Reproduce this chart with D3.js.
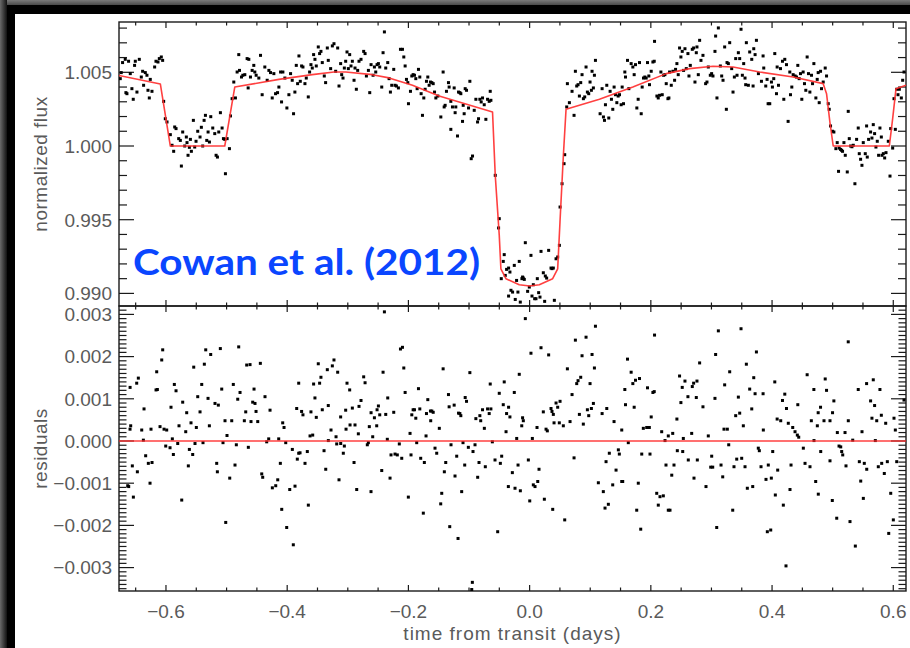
<!DOCTYPE html>
<html>
<head>
<meta charset="utf-8">
<script src="https://cdn.jsdelivr.net/npm/d3@7"></script>
<style>
  html, body { margin: 0; padding: 0; background: #000; }
  svg { display: block; }
</style>
</head>
<body>
<svg id="chart" width="910" height="648"></svg>
<script>
// ---- Light-curve measurements: [time from transit (days), normalized flux] ----
const fluxPoints = [
  [-0.6754,1.00457],[-0.6738,1.00498],[-0.6716,1.00566],[-0.6672,1.00588],[-0.6661,1.00362],[-0.6644,1.00355],[-0.6617,1.00575],[-0.6589,1.00491],[-0.6562,1.00389],[-0.6540,1.00317],[-0.6518,1.00547],[-0.6506,1.00575],[-0.6479,1.00366],[-0.6440,1.00588],[-0.6407,1.00468],[-0.6385,1.00507],[-0.6369,1.00412],[-0.6341,1.00498],[-0.6314,1.00480],[-0.6297,1.00378],[-0.6275,1.00326],[-0.6259,1.00452],[-0.6231,1.00371],[-0.6187,1.00536],[-0.6165,1.00575],[-0.6132,1.00570],[-0.6110,1.00593],[-0.6077,1.00604],[-0.6055,1.00581],
  [-0.6038,1.00303],[-0.6011,1.00185],[-0.5983,1.00163],[-0.5928,1.00077],[-0.5900,1.00005],[-0.5873,0.99964],[-0.5856,1.00129],[-0.5834,1.00118],[-0.5790,1.00050],[-0.5763,1.00038],[-0.5746,0.99864],[-0.5724,1.00095],[-0.5691,1.00000],[-0.5664,1.00061],[-0.5653,1.00023],[-0.5636,0.99937],[-0.5614,0.99991],[-0.5597,1.00045],[-0.5581,0.99964],[-0.5548,1.00174],[-0.5526,0.99993],[-0.5504,1.00032],[-0.5476,1.00100],[-0.5438,1.00061],[-0.5416,1.00127],[-0.5394,1.00000],[-0.5371,1.00174],[-0.5349,1.00208],[-0.5327,1.00038],[-0.5305,1.00095],[-0.5283,1.00027],[-0.5261,1.00199],[-0.5228,1.00122],[-0.5195,1.00084],[-0.5173,0.99937],[-0.5151,0.99925],[-0.5129,1.00095],[-0.5102,1.00226],[-0.5074,1.00122],[-0.5052,1.00050],[-0.5030,1.00045],[-0.5019,0.99812],[-0.4991,1.00050],[-0.4953,0.99982],
  [-0.4936,1.00204],[-0.4909,1.00321],[-0.4881,1.00434],[-0.4854,1.00326],[-0.4826,1.00502],[-0.4799,1.00620],[-0.4787,1.00513],[-0.4754,1.00468],[-0.4732,1.00480],[-0.4699,1.00484],[-0.4661,1.00593],[-0.4644,1.00394],[-0.4633,1.00588],[-0.4606,1.00468],[-0.4578,1.00513],[-0.4551,1.00547],[-0.4534,1.00502],[-0.4512,1.00480],[-0.4468,1.00461],[-0.4440,1.00615],[-0.4413,1.00348],[-0.4369,1.00536],[-0.4330,1.00446],[-0.4302,1.00513],[-0.4275,1.00498],[-0.4247,1.00326],[-0.4220,1.00491],[-0.4192,1.00355],[-0.4159,1.00362],
  [-0.4137,1.00400],[-0.4109,1.00502],[-0.4093,1.00299],[-0.4071,1.00502],[-0.4038,1.00461],[-0.4005,1.00258],[-0.3972,1.00348],[-0.3944,1.00491],[-0.3917,1.00446],[-0.3895,1.00219],[-0.3873,1.00366],[-0.3850,1.00547],[-0.3828,1.00423],[-0.3806,1.00611],[-0.3784,1.00439],[-0.3762,1.00543],[-0.3740,1.00536],[-0.3707,1.00423],[-0.3685,1.00461],[-0.3652,1.00333],[-0.3630,1.00502],[-0.3608,1.00552],[-0.3586,1.00529],[-0.3564,1.00620],[-0.3542,1.00588],[-0.3520,1.00543],[-0.3487,1.00672],[-0.3465,1.00627],[-0.3443,1.00642],[-0.3421,1.00566],[-0.3388,1.00475],[-0.3366,1.00430],[-0.3338,1.00665],[-0.3322,1.00581],[-0.3283,1.00525],[-0.3255,1.00679],[-0.3228,1.00694],[-0.3200,1.00507],[-0.3167,1.00665],[-0.3145,1.00407],[-0.3118,1.00559],[-0.3101,1.00484],[-0.3079,1.00461],[-0.3057,1.00529],[-0.3035,1.00575],[-0.3013,1.00638],[-0.2991,1.00525],[-0.2969,1.00620],[-0.2947,1.00543],[-0.2925,1.00575],[-0.2897,1.00446],[-0.2881,1.00529],[-0.2859,1.00385],[-0.2837,1.00513],[-0.2815,1.00575],[-0.2782,1.00588],[-0.2738,1.00642],[-0.2715,1.00627],[-0.2693,1.00475],[-0.2660,1.00513],[-0.2638,1.00362],[-0.2616,1.00552],[-0.2583,1.00480],[-0.2561,1.00536],[-0.2539,1.00502],[-0.2517,1.00552],[-0.2495,1.00559],[-0.2473,1.00536],[-0.2440,1.00400],[-0.2418,1.00633],[-0.2396,1.00774],[-0.2374,1.00529],[-0.2341,1.00566],[-0.2319,1.00457],[-0.2297,1.00366],[-0.2275,1.00412],[-0.2242,1.00520],[-0.2220,1.00412],[-0.2198,1.00407],[-0.2165,1.00394],[-0.2131,1.00656],[-0.2098,1.00656],[-0.2076,1.00604],[-0.2054,1.00543],[-0.2032,1.00452],[-0.2010,1.00430],[-0.1999,1.00287],[-0.1966,1.00371],[-0.1944,1.00475],[-0.1922,1.00484],[-0.1900,1.00480],[-0.1878,1.00457],[-0.1856,1.00389],[-0.1834,1.00520],[-0.1812,1.00468],[-0.1790,1.00355],[-0.1768,1.00208],[-0.1746,1.00326],[-0.1724,1.00385],[-0.1702,1.00439],[-0.1680,1.00468],[-0.1658,1.00412],[-0.1636,1.00434],[-0.1614,1.00430],[-0.1591,1.00423],[-0.1569,1.00366],[-0.1547,1.00326],[-0.1514,1.00339],
  [-0.1465,1.00197],[-0.1427,1.00502],[-0.1410,1.00265],[-0.1394,1.00276],[-0.1372,1.00371],[-0.1339,1.00430],[-0.1328,1.00400],[-0.1300,1.00303],[-0.1300,1.00113],[-0.1273,1.00265],[-0.1245,1.00394],[-0.1229,1.00226],[-0.1218,1.00265],[-0.1190,1.00068],[-0.1173,1.00366],[-0.1151,1.00362],[-0.1135,1.00355],[-0.1107,1.00167],[-0.1096,1.00276],[-0.1080,1.00219],[-0.1063,1.00389],[-0.1041,1.00378],[-0.1008,1.00258],[-0.0986,1.00439],[-0.0964,0.99914],[-0.0942,0.99932],[-0.0914,1.00242],[-0.0887,1.00317],[-0.0859,1.00163],[-0.0843,1.00185],[-0.0821,1.00317],[-0.0799,1.00299],[-0.0777,1.00326],[-0.0749,1.00280],[-0.0722,1.00181],[-0.0694,1.00317],[-0.0667,1.00303],[-0.0650,1.00371],[-0.0639,1.00310],
  [-0.0567,0.99801],[-0.0512,0.99444],[-0.0501,0.99507],[-0.0468,0.99100],[-0.0435,0.99217],[-0.0419,0.99263],[-0.0402,0.99122],[-0.0380,0.99163],[-0.0347,0.99172],[-0.0347,0.98982],[-0.0325,0.99145],[-0.0308,0.99021],[-0.0281,0.99009],[-0.0253,0.99190],[-0.0237,0.98959],[-0.0215,0.99088],[-0.0193,0.99009],[-0.0171,0.99217],[-0.0154,0.98941],[-0.0127,0.99100],[-0.0116,0.99111],[-0.0105,0.99104],[-0.0088,0.99095],[-0.0071,0.99344],[-0.0033,0.99014],[-0.0005,0.99043],[0.0022,0.99258],[0.0039,0.98982],[0.0061,0.99059],[0.0083,0.98964],[0.0105,0.98964],[0.0127,0.99100],[0.0149,0.99005],[0.0171,0.98975],[0.0188,0.99285],[0.0226,0.99140],[0.0248,0.98946],[0.0259,0.99118],[0.0281,0.99104],[0.0314,0.99292],[0.0353,0.99172],[0.0369,0.99168],[0.0391,0.99172],[0.0408,0.98953],[0.0436,0.99235],[0.0463,0.99247],[0.0491,0.99326],[0.0502,0.99586],[0.0535,0.99744],[0.0568,0.99880],[0.0579,0.99941],
  [0.0612,1.00265],[0.0623,1.00423],[0.0656,1.00294],[0.0700,1.00371],[0.0733,1.00208],[0.0755,1.00507],[0.0777,1.00407],[0.0799,1.00416],[0.0821,1.00339],[0.0843,1.00430],[0.0865,1.00484],[0.0887,1.00321],[0.0909,1.00333],[0.0931,1.00536],[0.0953,1.00366],[0.0975,1.00355],[0.0997,1.00434],[0.1019,1.00378],[0.1030,1.00507],[0.1052,1.00394],[0.1069,1.00480],[0.1086,1.00581],
  [0.1163,1.00219],[0.1196,1.00389],[0.1218,1.00197],[0.1235,1.00174],[0.1251,1.00280],[0.1273,1.00412],[0.1306,1.00190],[0.1328,1.00371],[0.1350,1.00317],[0.1372,1.00249],[0.1394,1.00400],[0.1416,1.00348],[0.1439,1.00294],[0.1461,1.00339],[0.1483,1.00348],[0.1510,1.00280],[0.1527,1.00400],[0.1549,1.00287],[0.1571,1.00502],[0.1582,1.00468],[0.1615,1.00581],[0.1637,1.00389],[0.1675,1.00559],[0.1703,1.00536],[0.1725,1.00484],[0.1747,1.00552],[0.1769,1.00258],[0.1791,1.00317],[0.1813,1.00566],[0.1841,1.00219],[0.1857,1.00400],[0.1879,1.00461],[0.1901,1.00468],[0.1923,1.00461],[0.1945,1.00566],[0.1967,1.00475],[0.1978,1.00416],[0.2006,1.00507],[0.2034,1.00570],[0.2056,1.00575],[0.2061,1.00710],[0.2100,1.00339],[0.2122,1.00326],[0.2144,1.00344],[0.2166,1.00502],[0.2188,1.00348],[0.2210,1.00480],[0.2232,1.00484],[0.2254,1.00423],[0.2282,1.00321],[0.2298,1.00326],[0.2309,1.00502],[0.2337,1.00412],[0.2364,1.00507],[0.2392,1.00446],[0.2408,1.00520],[0.2430,1.00559],[0.2452,1.00484],[0.2474,1.00665],[0.2496,1.00604],[0.2518,1.00642],[0.2540,1.00513],[0.2563,1.00660],[0.2585,1.00525],[0.2612,1.00627],[0.2629,1.00475],[0.2651,1.00547],[0.2684,1.00656],[0.2706,1.00665],[0.2728,1.00434],[0.2750,1.00633],[0.2761,1.00672],[0.2783,1.00484],[0.2805,1.00717],[0.2827,1.00581],[0.2860,1.00615],[0.2904,1.00423],[0.2926,1.00434],[0.2948,1.00536],[0.2981,1.00480],[0.3003,1.00491],[0.3025,1.00475],[0.3058,1.00642],[0.3069,1.00746],[0.3091,1.00326],[0.3114,1.00801],[0.3147,1.00543],[0.3169,1.00475],[0.3191,1.00446],[0.3218,1.00672],[0.3246,1.00249],[0.3257,1.00566],[0.3279,1.00559],[0.3301,1.00701],[0.3334,1.00525],[0.3356,1.00366],[0.3378,1.00468],[0.3400,1.00593],[0.3422,1.00480],[0.3444,1.00633],[0.3466,1.00593],[0.3488,1.00792],[0.3510,1.00480],[0.3532,1.00559],[0.3554,1.00461],[0.3565,1.00416],[0.3576,1.00701],[0.3609,1.00412],[0.3631,1.00638],[0.3665,1.00588],[0.3687,1.00407],[0.3698,1.00660],[0.3720,1.00620],[0.3742,1.00717],[0.3775,1.00491],
  [0.3825,1.00439],[0.3852,1.00611],[0.3863,1.00529],[0.3896,1.00407],[0.3918,1.00452],[0.3935,1.00287],[0.3962,1.00287],[0.3990,1.00434],[0.4006,1.00400],[0.4028,1.00457],[0.4045,1.00627],[0.4073,1.00355],[0.4084,1.00536],[0.4106,1.00412],[0.4139,1.00525],[0.4172,1.00575],[0.4194,1.00317],[0.4210,1.00588],[0.4238,1.00552],[0.4265,1.00167],[0.4293,1.00502],[0.4304,1.00348],[0.4326,1.00400],[0.4348,1.00484],[0.4381,1.00475],[0.4403,1.00468],[0.4425,1.00547],[0.4447,1.00457],[0.4469,1.00491],[0.4491,1.00317],[0.4513,1.00502],[0.4535,1.00423],[0.4557,1.00378],[0.4579,1.00604],[0.4601,1.00491],[0.4624,1.00366],[0.4651,1.00480],[0.4668,1.00423],[0.4690,1.00559],[0.4723,1.00326],[0.4745,1.00452],[0.4761,1.00498],[0.4778,1.00294],[0.4800,1.00507],[0.4816,1.00389],[0.4844,1.00434],[0.4877,1.00529],[0.4899,1.00475],
  [0.4927,1.00287],[0.4943,1.00249],[0.4965,1.00136],[0.4998,1.00100],[0.5020,1.00095],[0.5053,0.99982],[0.5075,1.00023],[0.5097,0.99828],[0.5108,0.99986],[0.5130,0.99977],[0.5147,0.99971],[0.5163,0.99964],[0.5186,1.00023],[0.5208,0.99937],[0.5241,0.99824],[0.5257,1.00235],[0.5274,1.00050],[0.5296,1.00000],[0.5318,0.99995],[0.5340,1.00005],[0.5367,0.99744],[0.5395,1.00045],[0.5422,1.00122],[0.5439,0.99948],[0.5461,0.99910],[0.5483,0.99869],[0.5505,1.00023],[0.5538,0.99948],[0.5560,1.00136],[0.5571,0.99925],[0.5593,1.00045],[0.5626,1.00095],[0.5648,1.00054],[0.5670,1.00145],[0.5692,1.00084],[0.5714,0.99993],[0.5736,1.00032],[0.5758,0.99937],[0.5780,1.00122],[0.5803,1.00061],[0.5814,0.99937],[0.5836,0.99948],[0.5858,0.99919],[0.5880,0.99955],[0.5918,1.00032],[0.5946,0.99796],[0.5957,1.00118],[0.5990,0.99986],
  [0.6012,1.00321],[0.6034,1.00113],[0.6056,1.00385],[0.6078,1.00348],[0.6100,1.00385],[0.6133,1.00326],[0.6155,1.00446],[0.6177,1.00502]
];

// ---- Best-fit model: eclipse, phase variation and transit ----
const modelPoints = [
  [-0.6775,1.00478],[-0.6093,1.00421],[-0.5928,1.00000],[-0.5030,1.00000],[-0.4865,1.00400],[-0.4137,1.00452],[-0.3586,1.00484],[-0.3228,1.00502],[-0.3035,1.00502],[-0.2594,1.00484],[-0.2319,1.00462],[-0.1933,1.00412],[-0.1493,1.00339],[-0.0612,1.00231],[-0.0567,0.99800],[-0.0501,0.99394],[-0.0474,0.99167],[-0.0391,0.99100],[-0.0171,0.99059],[0.0000,0.99050],[0.0160,0.99059],[0.0380,0.99100],[0.0463,0.99167],[0.0501,0.99484],[0.0557,0.99937],[0.0601,1.00249],[0.1152,1.00317],[0.1703,1.00400],[0.2254,1.00491],[0.2640,1.00525],[0.3025,1.00541],[0.3356,1.00536],[0.3797,1.00502],[0.4348,1.00468],[0.4844,1.00423],[0.4899,1.00355],[0.4954,1.00163],[0.5009,1.00000],[0.5935,1.00000],[0.5990,1.00186],[0.6045,1.00389],[0.6210,1.00412]
];

// ---- Residuals (data minus model): [time, residual] ----
const residualPoints = [
  // early eclipse and egress, positive side
  [-0.6592,0.00127],[-0.6483,0.00137],[-0.6456,0.00149],[-0.6362,0.00076],[-0.6164,0.00121],[-0.6142,0.00122],[-0.6153,0.00164],[-0.6070,0.00192],[-0.6054,0.00216],[-0.5917,0.00080],[-0.5862,0.00134],[-0.5834,0.00119],[-0.5724,0.00092],[-0.5658,0.00067],[-0.5542,0.00175],[-0.5476,0.00105],[-0.5438,0.00069],[-0.5410,0.00134],[-0.5367,0.00182],[-0.5344,0.00216],[-0.5306,0.00101],[-0.5262,0.00205],[-0.5191,0.00089],[-0.5136,0.00085],[-0.5103,0.00219],[-0.5080,0.00123],[-0.4889,0.00134],[-0.4816,0.00099],[-0.4800,0.00223],[-0.4778,0.00115],[-0.4684,0.00069],[-0.4668,0.00180],[-0.4613,0.00181],[-0.4569,0.00092],[-0.4547,0.00123],[-0.4531,0.00089],[-0.4514,0.00070],[-0.4443,0.00184],[-0.4366,0.00105],[-0.4283,0.00073],[-0.3843,0.00077],[-0.3810,0.00137],
  // early eclipse and egress, negative side
  [-0.6631,-0.00106],[-0.6615,-0.00108],[-0.6593,0.00028],[-0.6582,0.00036],[-0.6555,-0.00059],[-0.6538,-0.00133],[-0.6472,-0.00073],[-0.6400,0.00026],[-0.6373,0.00002],[-0.6335,-0.00035],[-0.6291,-0.00053],[-0.6263,-0.00100],[-0.6247,0.00028],[-0.6230,-0.00051],[-0.6098,0.00034],[-0.6032,0.00028],[-0.6004,-0.00012],[-0.5988,0.00026],[-0.5933,-0.00016],[-0.5895,0.00005],[-0.5878,-0.00032],[-0.5806,-0.00006],[-0.5785,0.00036],[-0.5740,-0.00140],[-0.5674,0.00022],[-0.5631,-0.00059],[-0.5614,-0.00020],[-0.5587,0.00043],[-0.5559,-0.00032],[-0.5521,-0.00006],[-0.5499,0.00032],[-0.5389,-0.00004],[-0.5284,0.00036],[-0.5163,-0.00053],[-0.5152,-0.00073],[-0.5059,-0.00004],[-0.5026,0.00048],[-0.5014,-0.00193],[-0.4993,0.00013],[-0.4948,-0.00088],[-0.4915,0.00048],[-0.4861,-0.00057],[-0.4839,-0.00009],[-0.4707,0.00048],[-0.4641,-0.00015],[-0.4597,0.00046],[-0.4486,0.00046],[-0.4420,-0.00078],[-0.4404,-0.00086],[-0.4338,-0.00002],[-0.4305,0.00005],[-0.4245,-0.00111],[-0.4189,-0.00106],[-0.4156,-0.00092],[-0.4140,0.00005],[-0.4113,-0.00053],[-0.4090,-0.00162],[-0.4074,0.00043],[-0.4052,0.00032],[-0.4024,-0.00004],[-0.4008,-0.00205],[-0.3958,-0.00115],[-0.3915,-0.00020],[-0.3899,-0.00246],[-0.3871,-0.00107],[-0.3833,-0.00043],[-0.3810,-0.00029],
  // phase curve and transit, lower half
  [-0.3788,-0.00028],[-0.3706,-0.00053],[-0.3668,-0.00025],[-0.3651,-0.00152],[-0.3623,0.00012],[-0.3579,0.00014],[-0.3392,-0.00023],[-0.3364,-0.00067],[-0.3321,0.00001],[-0.3277,0.00026],[-0.3194,0.00010],[-0.3183,-0.00007],[-0.3145,-0.00092],[-0.3117,-0.00006],[-0.3074,-0.00029],[-0.3057,-0.00012],[-0.3029,0.00028],[-0.2963,0.00038],[-0.2897,-0.00051],[-0.2881,0.00038],[-0.2853,-0.00115],[-0.2826,0.00017],[-0.2678,-0.00009],[-0.2661,-0.00004],[-0.2645,0.00034],[-0.2617,-0.00120],[-0.2589,0.00010],[-0.2523,0.00036],[-0.2440,-0.00070],[-0.2348,0.00004],[-0.2303,-0.00088],[-0.2287,-0.00033],[-0.2221,-0.00031],[-0.2183,-0.00033],[-0.2150,-0.00007],[-0.2110,-0.00041],[-0.2001,-0.00133],[-0.1973,0.00018],[-0.1957,-0.00033],[-0.1863,-0.00004],[-0.1797,-0.00041],[-0.1754,-0.00171],[-0.1737,-0.00051],[-0.1709,0.00012],[-0.1632,0.00048],[-0.1561,-0.00017],[-0.1533,-0.00029],[-0.1490,0.00030],[-0.1467,-0.00149],[-0.1450,-0.00124],[-0.1407,-0.00073],[-0.1384,-0.00051],[-0.1318,-0.00203],[-0.1297,-0.00009],[-0.1231,-0.00083],[-0.1203,-0.00036],[-0.1181,-0.00231],[-0.1121,-0.00120],[-0.1099,-0.00004],[-0.1071,-0.00057],[-0.1011,-0.00015],[-0.0955,-0.00352],[-0.0945,-0.00335],[-0.0934,-0.00025],[-0.0901,-0.00009],[-0.0857,-0.00086],[-0.0835,-0.00051],[-0.0807,0.00048],[-0.0747,0.00030],[-0.0731,-0.00061],[-0.0615,-0.00002],[-0.0571,-0.00045],[-0.0527,-0.00215],[-0.0483,-0.00053],[-0.0461,-0.00036],[-0.0389,0.00022],[-0.0351,-0.00108],[-0.0285,-0.00075],[-0.0241,-0.00112],[-0.0213,0.00006],[-0.0191,-0.00057],[-0.0153,-0.00118],[-0.0130,0.00036],[-0.0104,0.00048],[-0.0021,-0.00045],[0.0002,-0.00142],[0.0045,0.00006],[0.0061,-0.00104],[0.0089,-0.00108],[0.0122,0.00032],[0.0134,-0.00096],[0.0155,-0.00067],[0.0243,-0.00138],[0.0271,0.00028],[0.0292,0.00024],[0.0381,-0.00162],[0.0403,0.00043],[0.0490,0.00043],[0.0556,0.00036],[0.0579,-0.00187],[0.0667,0.00046],[0.0733,-0.00040],[0.0886,0.00040],[0.1134,-0.00099],[0.1216,-0.00120],[0.1244,-0.00159],[0.1261,-0.00049],[0.1299,-0.00150],
  [0.1315,-0.00029],[0.1371,-0.00104],[0.1393,0.00046],[0.1426,-0.00069],[0.1464,-0.00021],[0.1480,-0.00031],[0.1520,0.00026],[0.1520,-0.00096],[0.1536,-0.00096],[0.1628,-0.00004],[0.1767,-0.00164],[0.1793,-0.00100],[0.1833,-0.00209],[0.1850,-0.00031],[0.1876,0.00030],[0.1932,0.00032],[0.1975,0.00032],[0.1986,-0.00031],[0.2097,-0.00124],[0.2123,-0.00152],[0.2151,-0.00132],[0.2179,0.00022],[0.2206,-0.00130],[0.2234,0.00001],[0.2250,-0.00057],[0.2288,0.00012],[0.2288,-0.00164],[0.2316,-0.00164],[0.2345,-0.00081],[0.2361,0.00018],[0.2382,-0.00057],[0.2437,-0.00023],[0.2526,-0.00025],[0.2536,0.00006],[0.2618,-0.00045],[0.2674,0.00018],[0.2712,-0.00088],[0.2767,-0.00045],[0.2910,-0.00108],[0.2948,0.00012],[0.2988,-0.00062],[0.3004,-0.00036],[0.3021,-0.00062],[0.3087,-0.00205],[0.3158,-0.00057],[0.3186,-0.00085],[0.3207,0.00028],[0.3262,0.00028],[0.3285,-0.00009],[0.3351,-0.00164],[0.3372,-0.00061],[0.3417,-0.00043],[0.3499,-0.00041],[0.3526,0.00036],[0.3554,-0.00061],[0.3592,-0.00112],[0.3681,-0.00108],[0.3773,-0.00017],[0.3790,-0.00023],[0.3818,-0.00061],[0.3856,0.00026],[0.3900,-0.00091],[0.3922,-0.00215],[0.3938,-0.00057],[0.3978,-0.00211],[0.3988,-0.00088],[0.4011,-0.00025],[0.4054,-0.00128],[0.4093,-0.00069],[0.4143,0.00048],[0.4186,-0.00152],[0.4230,-0.00296],[0.4268,0.00042],[0.4296,-0.00115],[0.4313,-0.00057],[0.4341,0.00032],[0.4379,0.00022],[0.4417,0.00014],[0.4440,0.00009],[0.4516,-0.00017],[0.4544,-0.00053],[0.4626,-0.00061],[0.4648,0.00048],[0.4692,0.00001],[0.4720,-0.00096],[0.4747,0.00036],[0.4763,-0.00126],[0.4803,-0.00025],[0.4857,0.00048],[0.4956,0.00048],[0.4956,-0.00047],[0.4994,-0.00141],[0.5067,-0.00183],[0.5077,0.00020],[0.5105,-0.00012],[0.5133,-0.00014],[0.5149,-0.00025],[0.5166,-0.00033],[0.5204,0.00020],[0.5220,-0.00059],[0.5258,0.00048],[0.5286,-0.00191],[0.5331,0.00002],[0.5374,-0.00249],[0.5440,-0.00049],[0.5463,-0.00095],[0.5484,0.00022],[0.5506,-0.00136],[0.5522,-0.00053],[0.5562,-0.00067],[0.5704,0.00001],[0.5727,0.00048],[0.5753,-0.00061],[0.5809,-0.00053],[0.5852,-0.00077],[0.5875,0.00042],[0.5902,-0.00049],[0.5925,-0.00219],[0.5958,-0.00124],[0.6001,-0.00187],[0.6034,0.00026],[0.6057,-0.00049],
  // phase curve and transit, upper half
  [-0.3762,0.00070],[-0.3740,0.00062],[-0.3608,0.00069],[-0.3564,0.00135],[-0.3542,0.00102],[-0.3520,0.00056],[-0.3487,0.00183],[-0.3465,0.00137],[-0.3443,0.00151],[-0.3421,0.00074],[-0.3338,0.00169],[-0.3322,0.00084],[-0.3255,0.00178],[-0.3228,0.00192],[-0.3167,0.00163],[-0.3118,0.00057],[-0.3035,0.00073],[-0.3013,0.00137],[-0.2969,0.00121],[-0.2925,0.00078],[-0.2815,0.00082],[-0.2782,0.00096],[-0.2738,0.00152],[-0.2715,0.00138],[-0.2616,0.00067],[-0.2561,0.00055],[-0.2517,0.00074],[-0.2495,0.00083],[-0.2473,0.00062],[-0.2418,0.00163],[-0.2396,0.00306],[-0.2374,0.00063],[-0.2341,0.00102],[-0.2242,0.00068],[-0.2131,0.00218],[-0.2098,0.00222],[-0.2076,0.00173],[-0.2054,0.00115],[-0.1944,0.00062],[-0.1922,0.00074],[-0.1900,0.00074],[-0.1878,0.00054],[-0.1834,0.00124],[-0.1812,0.00076],[-0.1702,0.00065],[-0.1680,0.00098],[-0.1636,0.00071],[-0.1614,0.00071],[-0.1591,0.00068],[-0.1427,0.00171],[-0.1339,0.00110],[-0.1328,0.00081],[-0.1245,0.00085],[-0.1173,0.00066],[-0.1151,0.00065],[-0.1135,0.00060],[-0.1063,0.00103],[-0.1041,0.00094],[-0.0986,0.00162],[-0.0887,0.00053],[-0.0821,0.00060],[-0.0777,0.00074],[-0.0694,0.00076],[-0.0667,0.00065],[-0.0650,0.00135],[-0.0639,0.00076],[-0.0501,0.00113],[-0.0435,0.00086],[-0.0419,0.00140],[-0.0380,0.00065],[-0.0347,0.00080],[-0.0325,0.00057],[-0.0253,0.00115],[-0.0171,0.00158],[-0.0116,0.00055],[-0.0071,0.00290],[0.0022,0.00208],[0.0188,0.00221],[0.0226,0.00069],[0.0314,0.00204],[0.0353,0.00077],[0.0369,0.00070],[0.0391,0.00063],[0.0436,0.00090],[0.0463,0.00080],[0.0502,0.00094],[0.0623,0.00171],[0.0700,0.00110],[0.0755,0.00239],[0.0777,0.00136],[0.0799,0.00143],[0.0821,0.00063],[0.0843,0.00151],[0.0865,0.00202],[0.0931,0.00246],[0.0953,0.00074],[0.0975,0.00060],[0.0997,0.00136],[0.1019,0.00077],[0.1030,0.00205],[0.1052,0.00089],[0.1069,0.00173],[0.1086,0.00272],[0.1196,0.00065],[0.1273,0.00077],[0.1571,0.00122],[0.1582,0.00086],[0.1615,0.00194],[0.1675,0.00163],[0.1703,0.00136],[0.1725,0.00080],[0.1747,0.00144],[0.1813,0.00148],[0.1945,0.00126],[0.2006,0.00057],[0.2034,0.00115],[0.2056,0.00117],[0.2061,0.00251],[0.2430,0.00052],[0.2474,0.00154],[0.2496,0.00091],[0.2518,0.00127],[0.2563,0.00142],[0.2612,0.00105],[0.2684,0.00129],[0.2706,0.00137],[0.2750,0.00103],[0.2761,0.00142],[0.2805,0.00185],[0.2860,0.00081],[0.3058,0.00101],[0.3069,0.00205],[0.3114,0.00261],[0.3218,0.00133],[0.3301,0.00164],[0.3400,0.00060],[0.3444,0.00104],[0.3466,0.00066],[0.3488,0.00266],[0.3576,0.00182],[0.3631,0.00123],[0.3665,0.00076],[0.3698,0.00150],[0.3720,0.00112],[0.3742,0.00211],[0.3852,0.00112],[0.4045,0.00140],[0.4084,0.00052],[0.4172,0.00096],[0.4210,0.00111],[0.4238,0.00077],[0.4425,0.00086],[0.4579,0.00157],[0.4690,0.00122],[0.4761,0.00067],[0.4800,0.00080],[0.4877,0.00147],[0.4899,0.00120],[0.4998,0.00067],[0.5020,0.00095],[0.5257,0.00235],[0.5422,0.00122],[0.5560,0.00136],[0.5626,0.00095],[0.5648,0.00054],[0.5670,0.00145],[0.5692,0.00084],[0.5780,0.00122],[0.5803,0.00061],[0.6012,0.00054],[0.6177,0.00097]
];

// ---- Axis ticks and labels ----
const timeTicks = [-0.6, -0.4, -0.2, 0.0, 0.2, 0.4, 0.6];
const fluxTicks = [0.990, 0.995, 1.000, 1.005];
const residualTicks = [-0.003, -0.002, -0.001, 0.000, 0.001, 0.002, 0.003];
const fluxTitle = "normalized flux";
const residualTitle = "residuals";
const timeTitle = "time from transit (days)";
const citation = "Cowan et al. (2012)";

// ---- Layout ----
const W = 910, H = 648;
const X0 = 119, X1 = 906, TOP = 22, MID = 306, BOT = 591;

const svg = d3.select("#chart");
const defs = svg.append("defs");

// dark frame around the white page
const gTop = defs.append("linearGradient").attr("id", "frameTop").attr("x1", 0).attr("y1", 0).attr("x2", 0).attr("y2", 1);
gTop.append("stop").attr("offset", "0%").attr("stop-color", "#7a7a7a");
gTop.append("stop").attr("offset", "100%").attr("stop-color", "#4a4a4a");
const gLeft = defs.append("linearGradient").attr("id", "frameLeft").attr("x1", 0).attr("y1", 0).attr("x2", 1).attr("y2", 0);
gLeft.append("stop").attr("offset", "0%").attr("stop-color", "#6a6a6a");
gLeft.append("stop").attr("offset", "100%").attr("stop-color", "#111");

svg.append("rect").attr("width", W).attr("height", H).attr("fill", "#000");
svg.append("rect").attr("x", 0).attr("y", 0).attr("width", W).attr("height", 5).attr("fill", "url(#frameTop)");
svg.append("rect").attr("x", 0).attr("y", 0).attr("width", 7).attr("height", H).attr("fill", "url(#frameLeft)");
svg.append("rect").attr("x", 15).attr("y", 14).attr("width", W - 15).attr("height", H - 14).attr("fill", "#fff");

// ---- Scales ----
const x = d3.scaleLinear().domain([-0.6775, 0.621]).range([X0, X1]);
const yFlux = d3.scaleLinear().domain([0.989145, 1.008413]).range([MID, TOP]);
const yRes = d3.scaleLinear().domain([-0.003555, 0.003199]).range([BOT, MID]);

defs.append("clipPath").attr("id", "clipTop").append("rect").attr("x", X0).attr("y", TOP).attr("width", X1 - X0).attr("height", MID - TOP);
defs.append("clipPath").attr("id", "clipBot").append("rect").attr("x", X0).attr("y", MID).attr("width", X1 - X0).attr("height", BOT - MID);

// evenly stepped tick values between the domain ends (integer stepping avoids float drift)
function stepped(lo, hi, step) {
  const a = Math.ceil(lo / step - 1e-6), b = Math.floor(hi / step + 1e-6);
  return d3.range(a, b + 1).map(k => k * step);
}
function isMultiple(v, step) {
  const r = v / step;
  return Math.abs(r - Math.round(r)) < 1e-6;
}

const tickColor = "#1a1a1a";
const labelColor = "#5a5a5a";
const labelFont = "'Liberation Sans', Arial, Helvetica, sans-serif";

const axes = svg.append("g");

// x ticks along the top and bottom edges of both panels
function xTicks(yEdge, dir) {
  stepped(x.domain()[0], x.domain()[1], 0.05).forEach(v => {
    const major = isMultiple(v, 0.2);
    const len = major ? 6 : 3.5;
    axes.append("line")
      .attr("x1", x(v)).attr("x2", x(v))
      .attr("y1", yEdge).attr("y2", yEdge + dir * len)
      .attr("stroke", tickColor).attr("stroke-width", 1.2);
  });
}
xTicks(TOP, 1); xTicks(MID, -1); xTicks(MID, 1); xTicks(BOT, -1);

// y ticks on both sides of a panel
function yTicks(scale, minorStep, majorStep, majorLen, minorLen) {
  const [lo, hi] = scale.domain();
  stepped(lo, hi, minorStep).forEach(v => {
    const major = isMultiple(v, majorStep);
    const len = major ? majorLen : minorLen;
    [[X0, 1], [X1, -1]].forEach(([xe, dir]) => {
      axes.append("line")
        .attr("x1", xe).attr("x2", xe + dir * len)
        .attr("y1", scale(v)).attr("y2", scale(v))
        .attr("stroke", tickColor).attr("stroke-width", 1.2);
    });
  });
}
yTicks(yFlux, 0.001, 0.005, 15, 8);
yTicks(yRes, 0.0001, 0.001, 15, 7.5);

// panel frames
[[TOP, MID], [MID, BOT]].forEach(([a, b]) => {
  axes.append("rect").attr("x", X0).attr("y", a).attr("width", X1 - X0).attr("height", b - a)
    .attr("fill", "none").attr("stroke", tickColor).attr("stroke-width", 1.4);
});

// tick labels
const fmt3 = d3.format(".3f");
const fmt1 = d3.format(".1f");
const labels = svg.append("g").attr("font-family", labelFont).attr("font-size", 19).attr("fill", labelColor);
fluxTicks.forEach(v => {
  labels.append("text").attr("x", 112).attr("y", yFlux(v)).attr("dy", "0.36em")
    .attr("text-anchor", "end").text(fmt3(v));
});
residualTicks.forEach(v => {
  labels.append("text").attr("x", 112).attr("y", yRes(v)).attr("dy", "0.36em")
    .attr("text-anchor", "end").text(fmt3(v));
});
timeTicks.forEach(v => {
  labels.append("text").attr("x", x(v)).attr("y", 618)
    .attr("text-anchor", "middle").text(fmt1(v));
});

// axis titles
labels.append("text").attr("transform", `translate(47,${(TOP + MID) / 2}) rotate(-90)`)
  .attr("text-anchor", "middle").attr("letter-spacing", 0.5).text(fluxTitle);
labels.append("text").attr("transform", `translate(47,${(MID + BOT) / 2}) rotate(-90)`)
  .attr("text-anchor", "middle").attr("letter-spacing", 0.5).text(residualTitle);
labels.append("text").attr("x", (X0 + X1) / 2).attr("y", 640)
  .attr("text-anchor", "middle").attr("letter-spacing", 1).text(timeTitle);

// ---- Upper panel: data and model ----
const upperPanel = svg.append("g").attr("clip-path", "url(#clipTop)");
upperPanel.selectAll("rect.pt").data(fluxPoints).join("rect")
  .attr("class", "pt")
  .attr("x", d => x(d[0]) - 1.5).attr("y", d => yFlux(d[1]) - 1.5)
  .attr("width", 3).attr("height", 3).attr("fill", "#000");

const modelLine = d3.line().x(d => x(d[0])).y(d => yFlux(d[1]));
upperPanel.append("path").datum(modelPoints)
  .attr("d", modelLine).attr("fill", "none")
  .attr("stroke", "#ff2b2b").attr("stroke-width", 1.6).attr("stroke-opacity", 0.9)
  .attr("stroke-linejoin", "round");

// ---- Lower panel: residuals and zero line ----
const lowerPanel = svg.append("g").attr("clip-path", "url(#clipBot)");
lowerPanel.selectAll("rect.pt").data(residualPoints).join("rect")
  .attr("class", "pt")
  .attr("x", d => x(d[0]) - 1.5).attr("y", d => yRes(d[1]) - 1.5)
  .attr("width", 3).attr("height", 3).attr("fill", "#000");
lowerPanel.append("line")
  .attr("x1", X0).attr("x2", X1).attr("y1", yRes(0)).attr("y2", yRes(0))
  .attr("stroke", "#ff2b2b").attr("stroke-width", 1.6).attr("stroke-opacity", 0.9);

// ---- Citation ----
svg.append("text")
  .attr("x", 133).attr("y", 275)
  .attr("font-family", "Lato, 'Open Sans', sans-serif").attr("font-weight", 700)
  .attr("font-size", 36).attr("fill", "#0a46ff")
  .attr("textLength", 347).attr("lengthAdjust", "spacingAndGlyphs")
  .text(citation);
</script>
</body>
</html>
